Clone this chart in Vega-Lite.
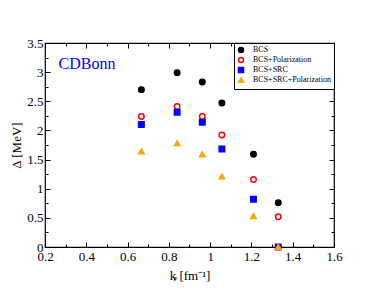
{
  "$schema": "https://vega.github.io/schema/vega-lite/v6.json",
  "autosize": "none",
  "width": 289,
  "height": 204,
  "padding": {"left": 45, "top": 43, "right": 42, "bottom": 44},
  "background": "white",
  "config": {
    "view": {"stroke": "black", "strokeWidth": 1.2},
    "font": "Liberation Serif",
    "axis": {"grid": false, "domain": false, "tickColor": "black", "labelColor": "black", "titleColor": "black", "labelFont": "Liberation Serif", "titleFont": "Liberation Serif", "labelFontSize": 13, "titleFontSize": 13, "titleFontWeight": "normal", "tickWidth": 1}
  },
  "data": {"values": [
    {"k": 0.667, "d": 2.70, "s": "BCS"},
    {"k": 0.840, "d": 2.99, "s": "BCS"},
    {"k": 0.962, "d": 2.83, "s": "BCS"},
    {"k": 1.057, "d": 2.47, "s": "BCS"},
    {"k": 1.210, "d": 1.59, "s": "BCS"},
    {"k": 1.330, "d": 0.76, "s": "BCS"},
    {"k": 0.667, "d": 2.24, "s": "BCS+Polarization"},
    {"k": 0.840, "d": 2.41, "s": "BCS+Polarization"},
    {"k": 0.962, "d": 2.24, "s": "BCS+Polarization"},
    {"k": 1.057, "d": 1.92, "s": "BCS+Polarization"},
    {"k": 1.210, "d": 1.16, "s": "BCS+Polarization"},
    {"k": 1.330, "d": 0.52, "s": "BCS+Polarization"},
    {"k": 0.667, "d": 2.10, "s": "BCS+SRC"},
    {"k": 0.840, "d": 2.31, "s": "BCS+SRC"},
    {"k": 0.962, "d": 2.14, "s": "BCS+SRC"},
    {"k": 1.057, "d": 1.68, "s": "BCS+SRC"},
    {"k": 1.210, "d": 0.82, "s": "BCS+SRC"},
    {"k": 1.330, "d": 0.0, "s": "BCS+SRC"},
    {"k": 0.667, "d": 1.64, "s": "BCS+SRC+Polarization"},
    {"k": 0.840, "d": 1.78, "s": "BCS+SRC+Polarization"},
    {"k": 0.962, "d": 1.59, "s": "BCS+SRC+Polarization"},
    {"k": 1.057, "d": 1.21, "s": "BCS+SRC+Polarization"},
    {"k": 1.210, "d": 0.53, "s": "BCS+SRC+Polarization"},
    {"k": 1.330, "d": 0.0, "s": "BCS+SRC+Polarization"}
  ]},
  "resolve": {"axis": {"x": "independent", "y": "independent"}},
  "layer": [
    {
      "mark": {"type": "point", "strokeWidth": 1.5, "opacity": 1, "size": 30},
      "encoding": {
        "x": {"field": "k", "type": "quantitative", "scale": {"domain": [0.2, 1.6], "nice": false, "zero": false},
              "axis": {"orient": "bottom", "values": [0.2, 0.4, 0.6, 0.8, 1.0, 1.2, 1.4, 1.6], "labelExpr": "'' + datum.value", "tickSize": -5, "labelPadding": 8, "title": "k [fm⁻¹]", "titlePadding": 6, "labelFlush": false, "labelOverlap": false}},
        "y": {"field": "d", "type": "quantitative", "scale": {"domain": [0, 3.5], "nice": false},
              "axis": {"orient": "left", "values": [0, 0.5, 1, 1.5, 2, 2.5, 3, 3.5], "labelExpr": "'' + datum.value", "tickSize": -5, "labelPadding": 7, "title": "Δ [MeV]", "titlePadding": 3, "labelFlush": false, "labelOverlap": false}},
        "shape": {"field": "s", "type": "nominal", "scale": {"domain": ["BCS", "BCS+Polarization", "BCS+SRC", "BCS+SRC+Polarization"], "range": ["circle", "circle", "square", "triangle-up"]},
                  "legend": {"title": null, "orient": "top-right", "offset": 0, "strokeColor": "black", "fillColor": "white", "padding": 3, "labelFont": "Liberation Serif", "labelFontSize": 8, "labelColor": "black", "symbolSize": 25, "rowPadding": -4, "symbolStrokeWidth": 1.5, "labelOffset": 8, "labelLimit": 200}},
        "fill": {"field": "s", "type": "nominal", "scale": {"domain": ["BCS", "BCS+Polarization", "BCS+SRC", "BCS+SRC+Polarization"], "range": ["black", "white", "blue", "orange"]}, "legend": {"title": null}},
        "stroke": {"field": "s", "type": "nominal", "scale": {"domain": ["BCS", "BCS+Polarization", "BCS+SRC", "BCS+SRC+Polarization"], "range": ["black", "red", "blue", "orange"]}, "legend": {"title": null}},
        "order": {"field": "s", "type": "nominal"}
      }
    },
    {
      "mark": {"type": "point", "opacity": 0},
      "encoding": {
        "x": {"field": "k", "type": "quantitative", "axis": {"orient": "bottom", "values": [0.3, 0.5, 0.7, 0.9, 1.1, 1.3, 1.5], "tickSize": -3, "labels": false, "title": null}},
        "y": {"field": "d", "type": "quantitative", "axis": {"orient": "left", "values": [0.25, 0.75, 1.25, 1.75, 2.25, 2.75, 3.25], "tickSize": -3, "labels": false, "title": null}}
      }
    },
    {
      "mark": {"type": "point", "opacity": 0},
      "encoding": {
        "x": {"field": "k", "type": "quantitative", "axis": {"orient": "top", "values": [0.2, 0.4, 0.6, 0.8, 1.0, 1.2, 1.4, 1.6], "tickSize": -5, "labels": false, "title": null}},
        "y": {"field": "d", "type": "quantitative", "axis": {"orient": "right", "values": [0, 0.5, 1, 1.5, 2, 2.5, 3, 3.5], "tickSize": -5, "labels": false, "title": null}}
      }
    },
    {
      "mark": {"type": "point", "opacity": 0},
      "encoding": {
        "x": {"field": "k", "type": "quantitative", "axis": {"orient": "top", "values": [0.3, 0.5, 0.7, 0.9, 1.1, 1.3, 1.5], "tickSize": -3, "labels": false, "title": null}},
        "y": {"field": "d", "type": "quantitative", "axis": {"orient": "right", "values": [0.25, 0.75, 1.25, 1.75, 2.25, 2.75, 3.25], "tickSize": -3, "labels": false, "title": null}}
      }
    },
    {
      "data": {"values": [{"k": 0.266, "d": 3.05, "t": "CDBonn"}]},
      "mark": {"type": "text", "align": "left", "baseline": "alphabetic", "font": "Liberation Serif", "fontSize": 16, "color": "blue"},
      "encoding": {
        "x": {"field": "k", "type": "quantitative", "axis": null},
        "y": {"field": "d", "type": "quantitative", "axis": null},
        "text": {"field": "t"}
      }
    },
    {
      "data": {"values": [{"k": 0.822, "d": -0.58, "t": "F"}]},
      "mark": {"type": "text", "align": "left", "baseline": "alphabetic", "font": "Liberation Serif", "fontSize": 7, "color": "black"},
      "encoding": {
        "x": {"field": "k", "type": "quantitative", "axis": null},
        "y": {"field": "d", "type": "quantitative", "axis": null},
        "text": {"field": "t"}
      }
    }
  ]
}
